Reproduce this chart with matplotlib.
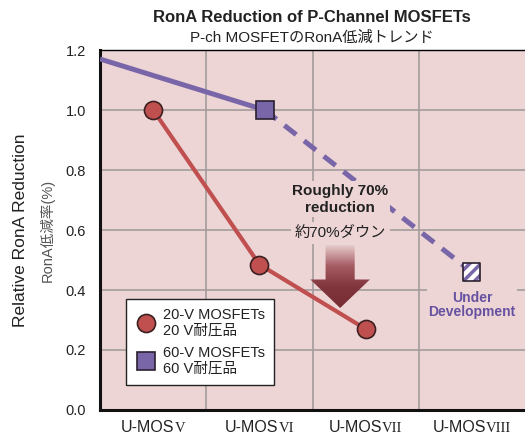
import matplotlib
matplotlib.use("Agg")
import matplotlib.pyplot as plt
import numpy as np
from matplotlib.patches import Polygon
from matplotlib.lines import Line2D

plt.rcParams["font.family"] = ["Liberation Sans", "Noto Sans CJK JP", "DejaVu Sans"]
plt.rcParams["hatch.linewidth"] = 2.5

# data
gen_prefix = "U-MOS"
gen_numerals = ["V", "VI", "VII", "VIII"]
v20_x = [0, 1, 2]
v20_y = [1.0, 0.485, 0.27]
v60_x = [-0.5, 1.05]          # solid trend line (from left edge)
v60_y = [1.17, 1.0]
v60_dev_x = [1.05, 3.0]       # dashed part to "under development"
v60_dev_y = [1.0, 0.46]
yticks = [0.0, 0.2, 0.4, 0.6, 0.8, 1.0, 1.2]

bg = "#EDD4D5"
red = "#C0504F"
purple = "#7866A8"
dark = "#222222"

fig = plt.figure(figsize=(5.25, 4.41), dpi=100)
ax = fig.add_axes([0.1905, 0.0703, 0.8095, 0.8163])
ax.set_facecolor(bg)

ax.set_xlim(-0.5, 3.5)
ax.set_ylim(0, 1.2)
ax.set_yticks(yticks, [f"{t:.1f}" for t in yticks])
ax.set_xticks(range(len(gen_numerals)), [""] * len(gen_numerals))
ax.set_xticks([0.5, 1.5, 2.5], minor=True)
ax.tick_params(axis="both", which="both", length=0, labelsize=10.5, colors=dark)
ax.tick_params(axis="y", pad=10)
ax.grid(True, axis="y", which="major", color="#A39C9C", linewidth=1.2)
ax.grid(True, axis="x", which="minor", color="#A39C9C", linewidth=1.2)
ax.set_axisbelow(True)
for s in ["left", "bottom"]:
    ax.spines[s].set_linewidth(2.2)
    ax.spines[s].set_color("#111111")
ax.spines["top"].set_linewidth(1.0)
ax.spines["right"].set_visible(False)

# lines
ax.plot(v60_x, v60_y, color=purple, lw=3.6, solid_capstyle="butt", zorder=3)
ax.plot(v60_dev_x, v60_dev_y, color=purple, lw=3.6, dashes=(3, 2), zorder=3)
ax.plot(v20_x, v20_y, color=red, lw=3.0, zorder=3)
ax.plot(v20_x, v20_y, "o", ms=13, mfc=red, mec="#3A2020", mew=1.2, zorder=4)
ax.plot(v60_x[-1], v60_y[-1], "s", ms=13, mfc=purple, mec="#2A2030", mew=1.2, zorder=4)
ax.scatter([v60_dev_x[-1]], [v60_dev_y[-1]], marker="s", s=150, facecolor="white",
           edgecolor=purple, linewidths=0, hatch="///", zorder=4)
ax.scatter([v60_dev_x[-1]], [v60_dev_y[-1]], marker="s", s=150, facecolor="none",
           edgecolor="#2A2030", linewidths=1.2, zorder=5)

# annotation text
ax.text(1.76, 0.702, "Roughly 70%\nreduction", ha="center", va="center", fontsize=11,
        fontweight="bold", color=dark, linespacing=1.3,
        bbox=dict(boxstyle="square,pad=0.15", fc=bg, ec="none"), zorder=5)
ax.text(1.76, 0.59, "約70%ダウン", ha="center", va="center", fontsize=11,
        color=dark, bbox=dict(boxstyle="square,pad=0.25", fc=bg, ec="none"), zorder=5)
ax.text(3.0, 0.35, "Under\nDevelopment", ha="center", va="center", fontsize=10,
        fontweight="bold", color="#6752A2", linespacing=1.05,
        bbox=dict(boxstyle="square,pad=0.1", fc=bg, ec="none"), zorder=5)

# gradient arrow
cx, top, neck, tip, sw, hw = 1.76, 0.55, 0.435, 0.34, 0.137, 0.28
arrow = Polygon([[cx - sw, top], [cx + sw, top], [cx + sw, neck], [cx + hw, neck],
                 [cx, tip], [cx - hw, neck], [cx - sw, neck]],
                closed=True, fc="none", ec="none", transform=ax.transData)
ax.add_patch(arrow)
grad = np.linspace(0, 1, 256).reshape(-1, 1)
cmap = matplotlib.colors.LinearSegmentedColormap.from_list(
    "ar", ["#E8CCCD", "#A55C63", "#80343B", "#782C33"])
im = ax.imshow(grad, cmap=cmap, extent=[cx - hw, cx + hw, tip, top], aspect="auto",
               zorder=4, origin="upper")
im.set_clip_path(arrow)
ax.set_xlim(-0.5, 3.5)
ax.set_ylim(0, 1.2)

# legend
handles = [Line2D([], [], ls="none", marker="o", ms=13, mfc=red, mec="#3A2020", mew=1.2),
           Line2D([], [], ls="none", marker="s", ms=13, mfc=purple, mec="#2A2030", mew=1.2)]
leg = ax.legend(handles, ["20-V MOSFETs\n20 V耐圧品", "60-V MOSFETs\n60 V耐圧品"],
                loc="lower left", bbox_to_anchor=(0.045, 0.05), fontsize=10.5,
                fancybox=False, framealpha=1, edgecolor=dark,
                handletextpad=0.4, labelspacing=0.55, borderpad=0.6, handlelength=1.5)
leg.get_frame().set_linewidth(1.0)
for t in leg.get_texts():
    t.set_color(dark)
leg.set_zorder(6)

# x category labels: sans prefix + serif roman numeral
renderer = fig.canvas.get_renderer()
inv = ax.transData.inverted()
for i, num in enumerate(gen_numerals):
    t1 = ax.text(i, -0.062, gen_prefix, ha="left", va="baseline", fontsize=11.5, color=dark,
                 transform=ax.get_xaxis_transform())
    t2 = ax.text(i, -0.062, num, ha="left", va="baseline", fontsize=10.5, color=dark,
                 family="Liberation Serif", transform=ax.get_xaxis_transform())
    w1 = t1.get_window_extent(renderer).width
    w2 = t2.get_window_extent(renderer).width
    x0 = ax.transData.transform((i, 0))[0] - (w1 + w2) / 2
    t1.set_x(inv.transform((x0, 0))[0])
    t2.set_x(inv.transform((x0 + w1, 0))[0])

# titles and labels
fig.text(0.594, 0.960, "RonA Reduction of P-Channel MOSFETs", ha="center", va="center",
         fontsize=12, fontweight="bold", color=dark)
fig.text(0.594, 0.913, "P-ch MOSFETのRonA低減トレンド", ha="center", va="center",
         fontsize=11, color=dark)
fig.text(0.040, 0.478, "Relative RonA Reduction", rotation=90, ha="center", va="center",
         fontsize=12.5, color=dark)
fig.text(0.089, 0.478, "RonA低減率(%)", rotation=90, ha="center", va="center",
         fontsize=10.5, color="#555555")

fig.savefig("out.png", dpi=100)
